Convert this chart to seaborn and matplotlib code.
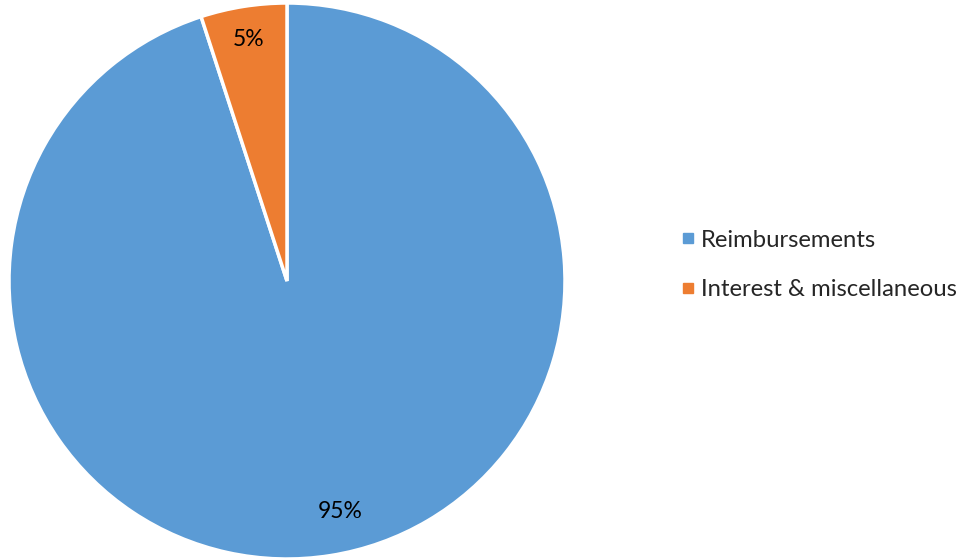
import matplotlib
matplotlib.use("Agg")
import matplotlib.pyplot as plt
from matplotlib.lines import Line2D
import numpy as np
import seaborn as sns

categories = ["Reimbursements", "Interest & miscellaneous"]
shares = [95, 5]
colors = ["#5B9BD5", "#ED7D31"]

sns.set_theme(style="white")
plt.rcParams["font.family"] = ["Lato", "DejaVu Sans"]

fig = plt.figure(figsize=(9.74, 5.59), dpi=100)
ax = fig.add_axes([9 / 974, 0.0, 556 / 974, 556 / 559])

wedges, texts, autotexts = ax.pie(
    shares,
    colors=colors,
    startangle=90,
    counterclock=False,
    autopct=lambda p: f"{p:.0f}%",
    pctdistance=0.88,
    wedgeprops=dict(edgecolor="white", linewidth=2.5),
    textprops=dict(fontsize=16.5, color="black"),
    radius=1.0,
)
# Nudge the large slice's label toward the lower right, as the chart tool places it
ang = np.deg2rad(-77)
autotexts[0].set_position((0.85 * np.cos(ang), 0.85 * np.sin(ang)))

ax.set_xlim(-1.0, 1.0)
ax.set_ylim(-1.0, 1.0)
ax.set_aspect("equal")
ax.axis("off")

handles = [Line2D([0], [0], marker="s", linestyle="none", markersize=7,
                  markerfacecolor=c, markeredgecolor=c) for c in colors]
fig.legend(handles, categories, loc="center left",
           bbox_to_anchor=(669 / 974, 1 - 265 / 559),
           frameon=False, fontsize=17.2, handletextpad=0.15,
           labelspacing=1.2, handlelength=0.8, borderaxespad=0)

fig.savefig("out.png", dpi=100, facecolor="white")
